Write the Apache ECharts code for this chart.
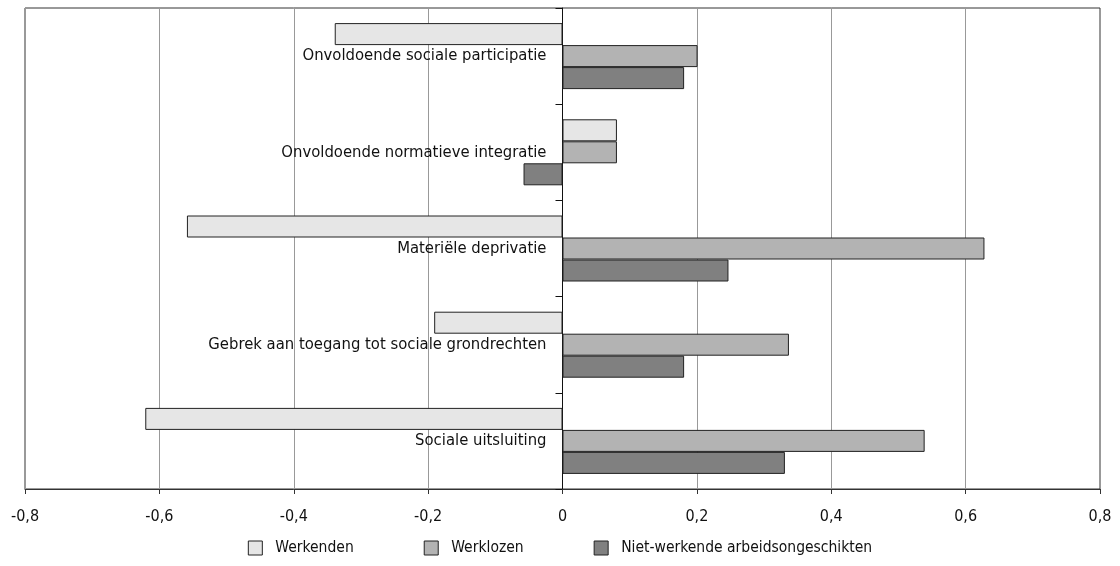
<!DOCTYPE html>
<html>
<head>
<meta charset="utf-8">
<script src="https://cdn.jsdelivr.net/npm/echarts@6/dist/echarts.min.js"></script>
<style>
html,body{margin:0;padding:0;background:#fff;}
#chart{width:1120px;height:566px;}
</style>
</head>
<body>
<div id="chart"></div>
<script>
const categories = [
  "Onvoldoende sociale participatie",
  "Onvoldoende normatieve integratie",
  "Materiële deprivatie",
  "Gebrek aan toegang tot sociale grondrechten",
  "Sociale uitsluiting"
];
const seriesNames = ["Werkenden", "Werklozen", "Niet-werkende arbeidsongeschikten"];
const werkenden = [-0.339, 0.081, -0.559, -0.191, -0.621];
const werklozen = [0.201, 0.081, 0.628, 0.337, 0.539];
const nietWerkend = [0.181, -0.058, 0.247, 0.181, 0.331];
const colors = ["#e6e6e6", "#b3b3b3", "#808080"];

const FONT = "'DejaVu Sans Condensed', 'Liberation Sans Narrow', 'Roboto Condensed', sans-serif";
const chart = echarts.init(document.getElementById('chart'));
const dataSets = [werkenden, werklozen, nietWerkend];
chart.setOption({
  animation: false,
  textStyle: {fontFamily: FONT},
  grid: {left: 25, right: 20, top: 8, bottom: 77, show: true, borderColor: '#333', borderWidth: 1,
         containLabel: false, outerBoundsMode: 'none'},
  legend: {
    bottom: 5, left: 'center',
    itemWidth: 14, itemHeight: 14, itemGap: 70,
    icon: 'rect',
    itemStyle: {borderColor: '#222', borderWidth: 1},
    textStyle: {fontFamily: FONT, fontSize: 15.5, color: '#111', padding: [0,0,0,8]},
    data: seriesNames
  },
  xAxis: {
    type: 'value', min: -0.8, max: 0.8, interval: 0.2,
    axisLine: {show: true, lineStyle: {color: '#333', width: 1}},
    axisTick: {show: true, length: 5, lineStyle: {color: '#333'}},
    axisLabel: {margin: 20, fontFamily: FONT, fontSize: 16, color: '#111',
      formatter: v => { const r = Math.round(v*10)/10; return r === 0 ? '0' : r.toFixed(1).replace('.', ','); }},
    splitLine: {show: true, lineStyle: {color: '#999', width: 1}}
  },
  yAxis: {
    type: 'category', data: categories, inverse: true,
    axisLine: {show: true, onZero: true, lineStyle: {color: '#111', width: 1}},
    axisTick: {show: true, length: 7, inside: false, lineStyle: {color: '#111'}},
    axisLabel: {show: false},
    splitLine: {show: false}
  },
  series: seriesNames.map((n, i) => ({
    name: n, type: 'bar', data: dataSets[i],
    barWidth: 22, barGap: '0%',
    itemStyle: {color: colors[i], borderColor: '#222', borderWidth: 1},
    label: i === 1 ? {show: true, position: 'left', distance: 16, fontFamily: FONT, fontSize: 16.5, color: '#111',
      formatter: p => p.name} : {show: false},
    emphasis: {disabled: true}
  }))
});
</script>
</body>
</html>
